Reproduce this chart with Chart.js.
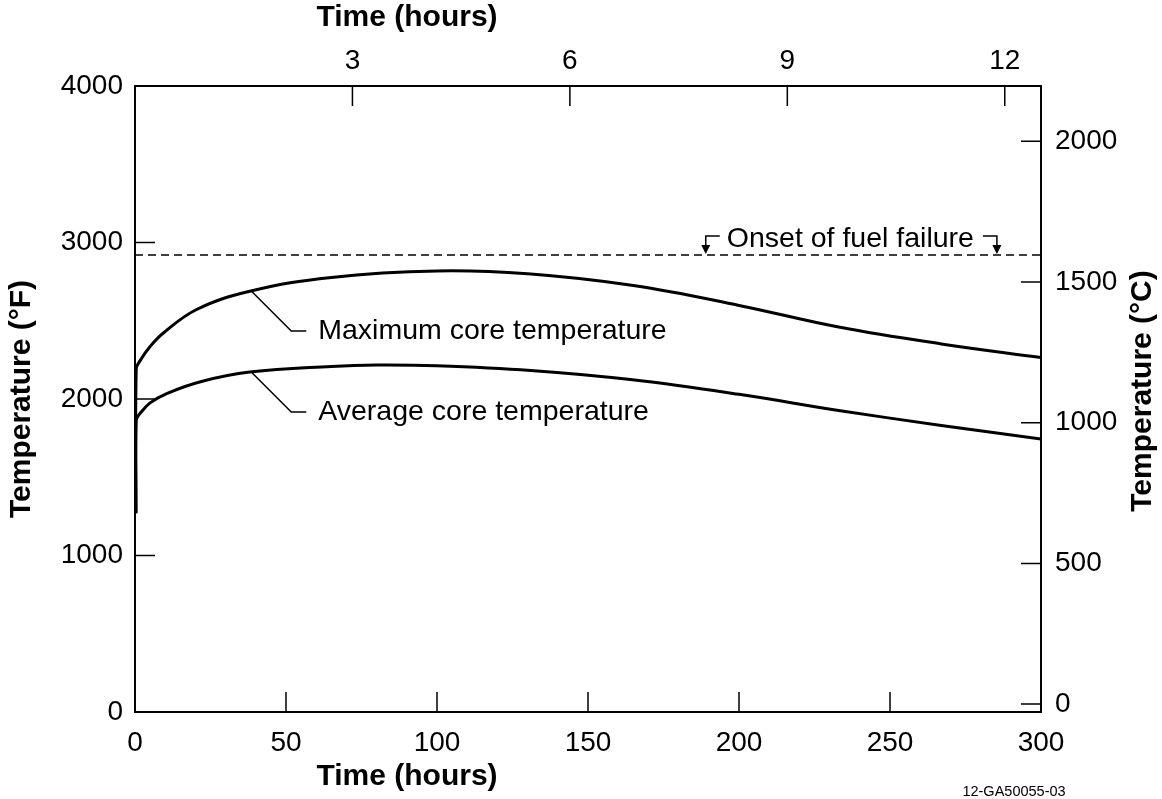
<!DOCTYPE html>
<html>
<head>
<meta charset="utf-8">
<script src="https://cdn.jsdelivr.net/npm/chart.js@4.4.0/dist/chart.umd.min.js"></script>
<style>
  html, body { margin: 0; padding: 0; background: #fff; }
  #chart { display: block; }
</style>
</head>
<body>
<canvas id="chart" width="1162" height="799"></canvas>
<script>
// values (time in hours, temperature in °F)
const maxHours = [0.3, 0.4, 1.7, 5, 9.3, 20.4, 38, 65, 100, 130, 165, 200, 233, 267, 300];
const maxTempF = [1270, 2190, 2245, 2335, 2420, 2572, 2688, 2777, 2818, 2800, 2725, 2598, 2460, 2352, 2265];
const avgHours = [0.3, 0.4, 2, 5, 10.5, 22, 38, 65, 80, 100, 131, 164, 200, 233, 267, 300];
const avgTempF = [1270, 1863, 1915, 1975, 2035, 2112, 2172, 2208, 2217, 2212, 2182, 2124, 2030, 1927, 1831, 1745];
const failureTempF = 2920;
const failureArrowHours = [189, 285.4];

const bottomTicks = [0, 50, 100, 150, 200, 250, 300];
const topTicks = [3, 6, 9, 12];          // top axis marks
const leftTicks = [0, 1000, 2000, 3000, 4000];
const rightTicks = [0, 500, 1000, 1500, 2000];

const labelHours = 38.5;
const maxLabelTempF = 2690;
const avgLabelTempF = 2172;

const FONT = "'Liberation Sans', Arial, Helvetica, sans-serif";

function toPoints(xs, ys) {
    return xs.map((v, i) => ({ x: v, y: ys[i] }));
}

function fixedTicks(list) {
    return scale => { scale.ticks = list.map(v => ({ value: v })); };
}

const decorations = {
    id: 'decorations',
    afterDraw(chart) {
        const ctx = chart.ctx;
        const { x, xTop, y, y2 } = chart.scales;
        const area = chart.chartArea;
        ctx.save();
        ctx.strokeStyle = '#000';
        ctx.fillStyle = '#000';
        ctx.lineWidth = 1.5;

        // inward tick marks
        const len = 20;
        ctx.beginPath();
        bottomTicks.filter(v => v > x.min && v < x.max).forEach(v => {
            const px = x.getPixelForValue(v);
            ctx.moveTo(px, area.bottom); ctx.lineTo(px, area.bottom - len);
        });
        topTicks.filter(v => v > xTop.min && v < xTop.max).forEach(v => {
            const px = xTop.getPixelForValue(v);
            ctx.moveTo(px, area.top); ctx.lineTo(px, area.top + len);
        });
        leftTicks.filter(v => v > y.min && v < y.max).forEach(v => {
            const py = y.getPixelForValue(v);
            ctx.moveTo(area.left, py); ctx.lineTo(area.left + len, py);
        });
        rightTicks.filter(v => v > y2.min && v < y2.max).forEach(v => {
            const py = y2.getPixelForValue(v);
            ctx.moveTo(area.right, py); ctx.lineTo(area.right - len, py);
        });
        ctx.stroke();

        // onset of fuel failure arrows + text
        const fy = y.getPixelForValue(failureTempF);
        failureArrowHours.forEach((h, i) => {
            const px = x.getPixelForValue(h);
            const dir = i === 0 ? 1 : -1;
            ctx.beginPath();
            ctx.moveTo(px + dir * 14, fy - 19);
            ctx.lineTo(px, fy - 19);
            ctx.lineTo(px, fy - 8);
            ctx.stroke();
            ctx.beginPath();
            ctx.moveTo(px - 4.5, fy - 10);
            ctx.lineTo(px + 4.5, fy - 10);
            ctx.lineTo(px, fy - 1);
            ctx.closePath();
            ctx.fill();
        });
        ctx.font = `28.5px ${FONT}`;
        ctx.textBaseline = 'middle';
        ctx.textAlign = 'left';
        ctx.fillText('Onset of fuel failure', x.getPixelForValue(failureArrowHours[0]) + 21, fy - 16);

        // leader lines to curve labels
        [[maxLabelTempF, 'Maximum core temperature'], [avgLabelTempF, 'Average core temperature']].forEach(([t, text]) => {
            const lx = x.getPixelForValue(labelHours);
            const ly = y.getPixelForValue(t);
            ctx.beginPath();
            ctx.moveTo(lx, ly);
            ctx.lineTo(lx + 40, ly + 40);
            ctx.lineTo(lx + 55, ly + 40);
            ctx.stroke();
            ctx.fillText(text, lx + 67, ly + 40);
        });

        // axis titles
        ctx.font = `bold 30px ${FONT}`;
        ctx.textAlign = 'center';
        ctx.fillText('Time (hours)', 407, 18);
        ctx.fillText('Time (hours)', 407, 777);
        ctx.save();
        ctx.translate(22, (area.top + area.bottom) / 2);
        ctx.rotate(-Math.PI / 2);
        ctx.fillText('Temperature (°F)', 0, 0);
        ctx.restore();
        ctx.save();
        ctx.translate(1143, (area.top + area.bottom) / 2 - 8);
        ctx.rotate(-Math.PI / 2);
        ctx.fillText('Temperature (°C)', 0, 0);
        ctx.restore();

        ctx.font = `14.5px ${FONT}`;
        ctx.fillText('12-GA50055-03', 1014, 792);
        ctx.restore();
    }
};

const tickFont = { family: FONT, size: 28 };
const frame = { display: true, color: '#000', width: 2 };
const plain = v => String(v);

new Chart(document.getElementById('chart'), {
    type: 'line',
    data: {
        datasets: [
            {
                label: 'Maximum core temperature',
                data: toPoints(maxHours, maxTempF),
                borderColor: '#000',
                borderWidth: 3,
                pointRadius: 0,
                tension: 0.4
            },
            {
                label: 'Average core temperature',
                data: toPoints(avgHours, avgTempF),
                borderColor: '#000',
                borderWidth: 3,
                pointRadius: 0,
                tension: 0.4
            },
            {
                label: 'Onset of fuel failure',
                data: toPoints([bottomTicks[0], bottomTicks[bottomTicks.length - 1]], [failureTempF, failureTempF]),
                borderColor: '#000',
                borderWidth: 1.5,
                borderDash: [8, 5],
                pointRadius: 0
            }
        ]
    },
    options: {
        responsive: false,
        animation: false,
        devicePixelRatio: 1,
        layout: { padding: 0 },
        plugins: { legend: { display: false }, tooltip: { enabled: false } },
        scales: {
            x: {
                type: 'linear', position: 'bottom', min: 0, max: 300,
                grid: { display: false, drawTicks: false }, border: frame,
                ticks: { font: tickFont, color: '#000', padding: 14, callback: plain },
                afterBuildTicks: fixedTicks(bottomTicks),
                afterFit: s => { s.height = 87; }
            },
            xTop: {
                type: 'linear', position: 'top', min: 0, max: 12.5,
                grid: { display: false, drawTicks: false }, border: frame,
                ticks: { font: tickFont, color: '#000', padding: 8, callback: plain },
                afterBuildTicks: fixedTicks(topTicks),
                afterFit: s => { s.height = 86; }
            },
            y: {
                type: 'linear', position: 'left', min: 0, max: 4000,
                grid: { display: false, drawTicks: false }, border: frame,
                ticks: { font: tickFont, color: '#000', padding: 12, callback: plain },
                afterBuildTicks: fixedTicks(leftTicks),
                afterFit: s => { s.width = 135; }
            },
            y2: {
                type: 'linear', position: 'right', min: -28, max: 2196,
                grid: { display: false, drawTicks: false }, border: frame,
                ticks: { font: tickFont, color: '#000', padding: 14, callback: plain },
                afterBuildTicks: fixedTicks(rightTicks),
                afterFit: s => { s.width = 121; }
            }
        }
    },
    plugins: [decorations]
});
</script>
</body>
</html>
